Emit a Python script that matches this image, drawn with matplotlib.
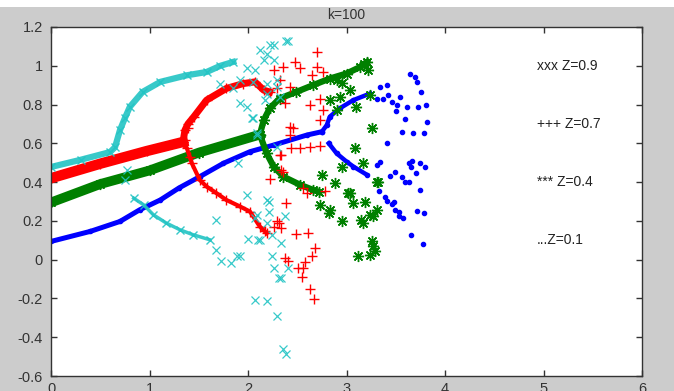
import numpy as np
import matplotlib.pyplot as plt
from matplotlib.patches import Rectangle

plt.rcParams['font.family'] = ['Liberation Sans', 'DejaVu Sans']

# Z=0.9 (cyan, x)
cyan_up_x = [0.0, 0.3, 0.6, 0.65, 0.70, 0.75, 0.80, 0.93, 1.11, 1.38, 1.58, 1.72, 1.85]
cyan_up_y = [0.478, 0.515, 0.555, 0.58, 0.668, 0.73, 0.788, 0.865, 0.917, 0.951, 0.968, 1.00, 1.02]
cyan_lo_x = [0.84, 0.94, 1.04, 1.17, 1.31, 1.44, 1.61]
cyan_lo_y = [0.317, 0.283, 0.231, 0.189, 0.154, 0.129, 0.103]
cyan_sc_x = [1.99, 2.12, 2.26, 2.39, 2.19, 1.92, 2.05, 1.72, 1.85, 2.19, 1.92, 1.99, 2.05,
             2.29, 2.32, 2.19, 2.09, 2.29, 1.90, 1.99, 0.77, 0.75, 2.22, 2.41, 2.16, 2.26,
             2.07, 2.29, 2.17, 2.04, 2.09,
             1.68, 1.73, 1.83, 1.89, 1.68, 2.00, 2.10, 2.09, 2.19, 2.21, 2.19, 2.24, 2.34,
             2.38, 2.24, 2.26, 2.34, 2.41, 2.07, 2.19, 2.29, 2.36, 2.39, 2.21, 2.07, 2.12,
             1.92, 2.31]
cyan_sc_y = [0.986, 1.08, 1.105, 1.13, 1.063, 0.925, 0.917, 0.908, 0.884, 0.908, 0.806, 0.788, 0.73,
             0.891, 0.84, 0.857, 0.651, 0.58, 0.50, 0.334, 0.463, 0.41, 1.105, 1.13, 1.028, 1.028,
             0.977, 0.925, 0.823, 0.729, 0.643,
             0.051, -0.009, -0.017, 0.017, 0.206, 0.106, 0.103, 0.231, 0.308, 0.248, 0.189, 0.129, 0.086,
             0.223, 0.017, -0.043, -0.094, -0.043, -0.206, -0.214, -0.291, -0.459, -0.488, 0.30, 0.214, 0.103,
             0.017, -0.094]

# Z=0.7 (red, +)
red_band_x = [0.0, 0.5, 0.97, 1.34]
red_band_y = [0.42, 0.495, 0.56, 0.607]
red_up_x = [1.34, 1.36, 1.39, 1.45, 1.58, 1.78, 1.95, 2.07, 2.16, 2.22]
red_up_y = [0.607, 0.668, 0.70, 0.737, 0.823, 0.883, 0.908, 0.917, 0.874, 0.865]
red_lo_x = [1.34, 1.38, 1.43, 1.51, 1.58, 1.68, 1.78, 1.92, 2.02, 2.12, 2.19]
red_lo_y = [0.607, 0.574, 0.497, 0.411, 0.377, 0.343, 0.308, 0.274, 0.248, 0.171, 0.137]
red_sc_x = [1.39, 1.36, 1.41, 2.70, 2.48, 2.53, 2.70, 2.76, 2.65, 2.36, 2.26, 2.32, 2.43, 2.29,
            2.73, 2.63, 2.76, 2.38, 2.73, 2.43, 2.46, 2.43, 2.53, 2.63, 2.73, 2.32, 2.34, 2.22,
            2.56, 2.60, 2.78, 2.44, 2.34, 2.36,
            2.39, 2.31, 2.34, 2.49, 2.61, 2.68, 2.65, 2.38, 2.41, 2.58, 2.51, 2.56, 2.55, 2.63,
            2.67, 2.26, 2.29, 2.17]
red_sc_y = [0.677, 0.617, 0.531, 1.071, 1.02, 0.986, 0.994, 0.968, 0.951, 0.994, 0.977, 0.925, 0.891, 0.883,
            0.831, 0.797, 0.771, 0.806, 0.72, 0.685, 0.677, 0.643, 0.574, 0.583, 0.586, 0.54, 0.463, 0.415,
            0.369, 0.343, 0.356, 0.574, 0.54, 0.454,
            0.291, 0.189, 0.163, 0.134, 0.14, 0.060, 0.021, 0.009, -0.009, -0.014, -0.043, -0.043, -0.089, -0.151,
            -0.202, 0.171, 0.197, 0.146]

# Z=0.4 (green, *)
green_band_x = [0.0, 0.5, 1.0, 1.5, 2.12]
green_band_y = [0.295, 0.39, 0.46, 0.552, 0.645]
green_up_x = [2.12, 2.16, 2.22, 2.32, 2.49, 2.66, 2.83, 3.0, 3.14, 3.21]
green_up_y = [0.645, 0.72, 0.78, 0.831, 0.865, 0.90, 0.934, 0.96, 0.994, 1.02]
green_lo_x = [2.12, 2.19, 2.26, 2.36, 2.53, 2.66, 2.72]
green_lo_y = [0.645, 0.548, 0.48, 0.428, 0.386, 0.36, 0.35]
green_sc_x = [2.90, 2.95, 3.04, 2.93, 2.83, 2.90, 3.10, 3.24, 3.26, 3.09, 3.17, 2.95, 2.88, 3.31,
              3.04, 2.75, 3.32, 3.02, 3.07, 3.19, 3.31, 2.83, 3.24, 3.27, 3.15, 2.95, 3.17, 3.26,
              3.27, 3.29, 3.12, 3.24, 2.73, 2.82, 3.18, 3.22]
green_sc_y = [0.925, 0.91, 0.874, 0.84, 0.823, 0.771, 0.788, 0.848, 0.677, 0.574, 0.497, 0.48, 0.397, 0.403,
              0.343, 0.437, 0.403, 0.343, 0.291, 0.295, 0.254, 0.254, 0.231, 0.223, 0.206, 0.197, 0.189, 0.094,
              0.069, 0.043, 0.021, 0.026, 0.283, 0.243, 1.01, 0.98]

# Z=0.1 (blue, .)
blue_main_x = [0.0, 0.4, 0.7, 0.9, 1.11, 1.3, 1.51, 1.75, 2.02, 2.26, 2.60, 2.75]
blue_main_y = [0.094, 0.146, 0.197, 0.257, 0.308, 0.37, 0.428, 0.497, 0.557, 0.591, 0.643, 0.66]
blue_up_x = [2.75, 2.80, 2.83, 2.93, 3.07, 3.24]
blue_up_y = [0.66, 0.694, 0.737, 0.78, 0.823, 0.857]
blue_lo_x = [2.82, 2.90, 3.0, 3.07, 3.21]
blue_lo_y = [0.60, 0.548, 0.506, 0.48, 0.437]
blue_sc_x = [3.34, 3.41, 3.64, 3.70, 3.72, 3.31, 3.37, 3.42, 3.46, 3.51, 3.54, 3.76, 3.81, 3.73,
             3.61, 3.50, 3.59, 3.56, 3.68, 3.79, 3.82, 3.41, 3.34, 3.31, 3.63, 3.67, 3.75, 3.80,
             3.65, 3.71, 3.49, 3.44, 3.56, 3.59, 3.63, 3.33, 3.75, 3.39, 3.41, 3.46, 3.48, 3.49,
             3.53, 3.53, 3.57, 3.72, 3.79, 3.65, 3.78]
blue_sc_y = [0.891, 0.90, 0.96, 0.943, 0.917, 0.831, 0.831, 0.848, 0.814, 0.797, 0.837, 0.865, 0.797, 0.788,
             0.788, 0.768, 0.725, 0.66, 0.655, 0.655, 0.708, 0.603, 0.506, 0.488, 0.50, 0.509, 0.497, 0.48,
             0.477, 0.446, 0.454, 0.434, 0.425, 0.403, 0.40, 0.356, 0.36, 0.322, 0.305, 0.288, 0.295, 0.257,
             0.245, 0.226, 0.214, 0.252, 0.243, 0.127, 0.082]

labels = ['xxx Z=0.9', '+++ Z=0.7', '*** Z=0.4', '...Z=0.1']
label_y = [1.0, 0.7, 0.4, 0.1]

c_cyan = '#22c4c4'
c_red = '#ff0000'
c_green = '#008000'
c_blue = '#0000ff'
star = (8, 2, 0)  # asterisk like matlab '*'

fig = plt.figure(figsize=(6.74, 3.91), dpi=100, facecolor='#cccccc')
fig.patches.append(Rectangle((0, 1 - 7 / 391), 1, 7 / 391, transform=fig.transFigure,
                             facecolor='white', edgecolor='none', zorder=0))
ax = fig.add_axes([51 / 674, 15 / 391, 591 / 674, 349 / 391])

# blue
ax.plot(blue_main_x, blue_main_y, color=c_blue, lw=3.6, marker='.', ms=6)
ax.plot(blue_up_x, blue_up_y, color=c_blue, lw=3.2, marker='.', ms=6)
ax.plot(blue_lo_x, blue_lo_y, color=c_blue, lw=3.2, marker='.', ms=6)
ax.plot(blue_sc_x, blue_sc_y, ls='none', color=c_blue, marker='.', ms=6)

# green
ax.plot(green_band_x, green_band_y, color=c_green, lw=7, marker=star, ms=8)
ax.plot(green_up_x, green_up_y, color=c_green, lw=4.5, marker=star, ms=8)
ax.plot(green_lo_x, green_lo_y, color=c_green, lw=4.5, marker=star, ms=8)
ax.plot(green_sc_x, green_sc_y, ls='none', color=c_green, marker=star, ms=8, mew=1)

# red
ax.plot(red_band_x, red_band_y, color=c_red, lw=7.5, marker='+', ms=7)
ax.plot(red_up_x, red_up_y, color=c_red, lw=5, marker='+', ms=7)
ax.plot(red_lo_x, red_lo_y, color=c_red, lw=3, marker='+', ms=7)
ax.plot(red_sc_x, red_sc_y, ls='none', color=c_red, marker='+', ms=7, mew=1)

# cyan
ax.plot(cyan_up_x, cyan_up_y, color=c_cyan, lw=4.5, marker='x', ms=6, alpha=0.9)
ax.plot(cyan_lo_x, cyan_lo_y, color=c_cyan, lw=2.5, marker='x', ms=6, alpha=0.9)
ax.plot(cyan_sc_x, cyan_sc_y, ls='none', color=c_cyan, marker='x', ms=6, mew=0.9, alpha=0.9)

for txt, yy in zip(labels, label_y):
    ax.text(4.93, yy, txt, fontsize=10, color='#222222', va='center', ha='left')

ax.set_xlim(0, 6)
ax.set_ylim(-0.6, 1.2)
ax.set_xticks(range(7))
ax.set_yticks(np.round(np.arange(-0.6, 1.21, 0.2), 1))
ax.set_yticklabels(['-0.6', '-0.4', '-0.2', '0', '0.2', '0.4', '0.6', '0.8', '1', '1.2'])
ax.tick_params(direction='in', top=True, right=True, length=4, width=1,
               color='#333333', labelsize=10.5, labelcolor='#333333', pad=6)
ax.tick_params(axis='x', pad=4)
for s in ax.spines.values():
    s.set_color('#333333')
    s.set_linewidth(1)
ax.set_title('k=100', fontsize=10, color='#333333', pad=6)

fig.savefig('out.png', dpi=100, facecolor=fig.get_facecolor())
